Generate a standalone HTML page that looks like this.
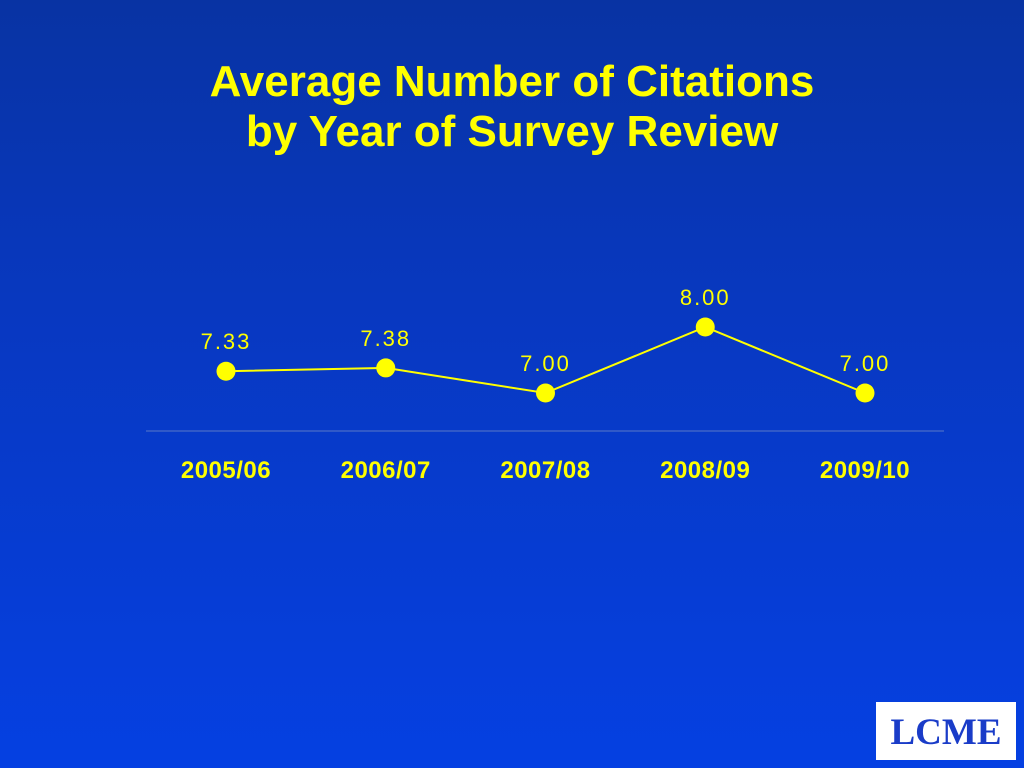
<!DOCTYPE html>
<html><head><meta charset="utf-8"><style>
html,body{margin:0;padding:0;width:1024px;height:768px;overflow:hidden}
body{background:linear-gradient(#0833a3 0%,#0838c0 40%,#0540e2 100%);font-family:"Liberation Sans",sans-serif;position:relative}
#title{position:absolute;left:0;top:57px;width:1024px;text-align:center;color:#ffff00;font-weight:bold;font-size:44px;line-height:50px}
#logo{position:absolute;left:876px;top:702px;width:140px;height:58px;background:#fff;color:#1a3cc8;font-family:"Liberation Serif",serif;font-weight:bold;font-size:37px;text-align:center;line-height:62px}
svg{position:absolute;left:0;top:0}
</style></head><body>
<div id="title">Average Number of Citations<br>by Year of Survey Review</div>
<svg id="chart" width="1024" height="768">
<line x1="146" y1="431" x2="944" y2="431" stroke="#5a78c8" stroke-width="1"/>
</svg>
<div id="logo">LCME</div>
<script>
const categories=["2005/06","2006/07","2007/08","2008/09","2009/10"];
const values=[7.33,7.38,7.00,8.00,7.00];
const labels=["7.33","7.38","7.00","8.00","7.00"];
const svg=document.getElementById('chart');
const NS="http://www.w3.org/2000/svg";
function xPos(i){return 226+i*159.75;}
function yPos(v){return 393-(v-7)*66;}
const pts=values.map((v,i)=>xPos(i)+","+yPos(v)).join(" ");
const line=document.createElementNS(NS,"polyline");
line.setAttribute("points",pts);line.setAttribute("fill","none");line.setAttribute("stroke","#ffff00");line.setAttribute("stroke-width","2");


svg.appendChild(line);
values.forEach((v,i)=>{
 const c=document.createElementNS(NS,"circle");
 c.setAttribute("cx",xPos(i));c.setAttribute("cy",yPos(v));c.setAttribute("r","9.5");c.setAttribute("fill","#ffff00");
 
 
 svg.appendChild(c);
 const t=document.createElementNS(NS,"text");
 t.setAttribute("x",xPos(i));t.setAttribute("y",yPos(v)-22);t.setAttribute("text-anchor","middle");
 t.setAttribute("fill","#ffff00");t.setAttribute("font-size","22");t.setAttribute("letter-spacing","2");
 t.setAttribute("font-family","Liberation Sans, sans-serif");t.textContent=labels[i];
 
 
 svg.appendChild(t);
 const x=document.createElementNS(NS,"text");
 x.setAttribute("x",xPos(i));x.setAttribute("y",478);x.setAttribute("text-anchor","middle");
 x.setAttribute("fill","#ffff00");x.setAttribute("font-size","24");x.setAttribute("font-weight","bold");x.setAttribute("letter-spacing","0.5");
 x.setAttribute("font-family","Liberation Sans, sans-serif");x.textContent=categories[i];
 
 
 svg.appendChild(x);
});
</script>
</body></html>
